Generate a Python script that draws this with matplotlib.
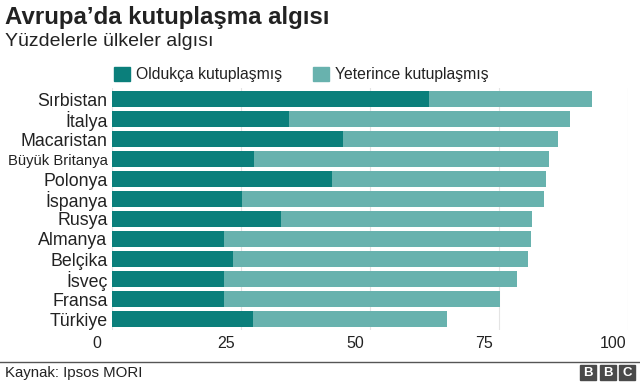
import matplotlib
matplotlib.use("Agg")
import matplotlib.pyplot as plt
import matplotlib.transforms as mtransforms
from matplotlib.patches import Rectangle

countries = ["Sırbistan", "İtalya", "Macaristan", "Büyük Britanya", "Polonya",
             "İspanya", "Rusya", "Almanya", "Belçika", "İsveç", "Fransa", "Türkiye"]
oldukca = [61.4, 34.2, 44.7, 27.5, 42.6, 25.1, 32.7, 21.6, 23.4, 21.6, 21.6, 27.3]
yeterince = [31.6, 54.5, 41.7, 57.1, 41.4, 58.5, 48.6, 59.5, 57.1, 56.9, 53.5, 37.6]
xticks = [0, 25, 50, 75, 100]
legend_labels = ["Oldukça kutuplaşmış", "Yeterince kutuplaşmış"]

DARK = "#0b7f7b"
LIGHT = "#68b2ae"
TXT = "#222222"

plt.rcParams["font.family"] = ["Liberation Sans", "DejaVu Sans"]

W, H = 640, 384
fig = plt.figure(figsize=(6.4, 3.84), dpi=100)

def fx(px):
    return px / W

def fy(py):
    return 1 - py / H

ax = fig.add_axes([fx(112.3), fy(330), fx(628.3) - fx(112.3), fy(88) - fy(330)])
ypos = list(range(len(countries)))
ax.barh(ypos, oldukca, height=0.8, color=DARK, zorder=3)
ax.barh(ypos, yeterince, left=oldukca, height=0.8, color=LIGHT, zorder=3)
ax.set_xlim(0, 100)
ax.set_ylim(len(countries) - 0.45, -0.55)
ax.set_xticks(xticks)
ax.set_xticklabels([str(t) for t in xticks])
ax.set_yticks(ypos)
ax.set_yticklabels(countries)
for lab in ax.get_yticklabels():
    if lab.get_text() == "Büyük Britanya":
        lab.set_fontsize(10.6)
    else:
        lab.set_fontsize(12.8)
    lab.set_color(TXT)
ax.tick_params(axis="y", length=0, pad=3.5)
ax.tick_params(axis="x", length=0, pad=4, labelsize=11.5, labelcolor=TXT)
offset = mtransforms.ScaledTranslation(-15 / 100, 0, fig.dpi_scale_trans)
for lab in ax.get_xticklabels():
    lab.set_transform(lab.get_transform() + offset)
ax.grid(axis="x", color="#e4e4e4", linewidth=0.8, zorder=0)
for s in ax.spines.values():
    s.set_visible(False)

# Titles
fig.text(fx(5), fy(17.5), "Avrupa’da kutuplaşma algısı", fontsize=17.3,
         fontweight="bold", color=TXT, va="center", ha="left")
fig.text(fx(5), fy(41), "Yüzdelerle ülkeler algısı", fontsize=14,
         color=TXT, va="center", ha="left")

# Legend
for (x0, lab, col) in [(114, legend_labels[0], DARK), (313, legend_labels[1], LIGHT)]:
    fig.patches.append(Rectangle((fx(x0), fy(81)), fx(16), fy(67) - fy(81),
                                 transform=fig.transFigure, color=col, figure=fig))
    fig.text(fx(x0 + 22), fy(74), lab, fontsize=11.3, color=TXT, va="center", ha="left")

# Footer
fig.add_artist(plt.Line2D([0, 1], [fy(361.5), fy(361.5)], transform=fig.transFigure,
                          color="#555555", linewidth=1))
fig.text(fx(5), fy(372.5), "Kaynak: Ipsos MORI", fontsize=10.8, color=TXT,
         va="center", ha="left")
for i, ch in enumerate("BBC"):
    x0 = 580 + i * 19.5
    fig.patches.append(Rectangle((fx(x0), fy(380)), fx(16), fy(365) - fy(380),
                                 transform=fig.transFigure, color="#4a4a4a", figure=fig))
    fig.text(fx(x0 + 8), fy(372.5), ch, fontsize=9.5, fontweight="bold",
             color="white", va="center", ha="center")

fig.savefig("out.png", dpi=100, facecolor="white")
